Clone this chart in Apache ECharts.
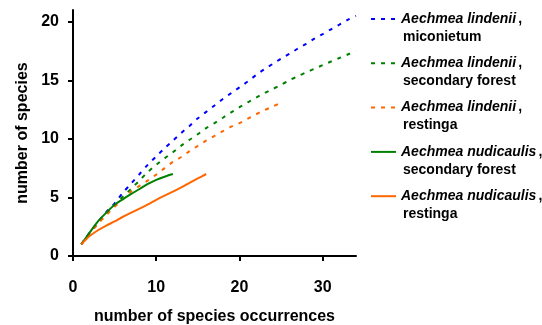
<!DOCTYPE html>
<html><head><meta charset="utf-8">
<script src="https://cdn.jsdelivr.net/npm/echarts@6/dist/echarts.min.js"></script>
<style>html,body{margin:0;padding:0;background:#fff}#c{width:542px;height:325px}</style>
</head><body><div id="c"></div>
<script>
// Chart data
const speciesNames = ['Aechmea lindenii', 'Aechmea lindenii', 'Aechmea lindenii', 'Aechmea nudicaulis', 'Aechmea nudicaulis'];
const habitats = ['miconietum', 'secondary forest', 'restinga', 'secondary forest', 'restinga'];

const occLindeniiMiconietum = [1,2,3,4,5,6,7,8,9,10,11,12,13,14,15,16,17,18,19,20,21,22,23,24,25,26,27,28,29,30,31,32,33,34];
const sppLindeniiMiconietum = [1,2.0,2.9,3.75,4.5,5.4,6.2,7.0,7.8,8.5,9.2,9.85,10.5,11.1,11.75,12.3,12.85,13.4,13.9,14.4,14.9,15.45,15.95,16.4,16.85,17.25,17.7,18.1,18.55,18.95,19.35,19.75,20.15,20.5];

const occLindeniiSecondary = [1,2,3,4,5,6,7,8,9,10,11,12,13,14,15,16,17,18,19,20,21,22,23,24,25,26,27,28,29,30,31,32,33,34];
const sppLindeniiSecondary = [1,1.95,2.8,3.6,4.35,5.08,5.75,6.45,7.18,7.78,8.33,8.85,9.42,9.92,10.4,10.92,11.35,11.8,12.26,12.7,13.12,13.52,13.9,14.25,14.62,15.0,15.34,15.67,15.98,16.3,16.6,16.9,17.2,17.5];

const occLindeniiRestinga = [1,2,3,4,5,6,7,8,9,10,11,12,13,14,15,16,17,18,19,20,21,22,23,24,25];
const sppLindeniiRestinga = [1,1.9,2.75,3.5,4.2,4.85,5.5,6.0,6.45,6.95,7.5,8.03,8.45,8.95,9.4,9.85,10.25,10.65,11.05,11.35,11.72,12.1,12.45,12.76,13.1];

const occNudicaulisSecondary = [1,2,3,4,5,6,7,8,9,10,11,12];
const sppNudicaulisSecondary = [1,2.0,2.95,3.7,4.37,4.85,5.3,5.72,6.15,6.5,6.77,7.0];

const occNudicaulisRestinga = [1,2,3,4,5,6,7,8,9,10,11,12,13,14,15,16];
const sppNudicaulisRestinga = [1,1.7,2.2,2.6,2.95,3.35,3.7,4.05,4.4,4.8,5.15,5.5,5.85,6.24,6.62,7.0];

const xTicks = [0, 10, 20, 30];
const yTicks = [0, 5, 10, 15, 20];

const occurrences = [occLindeniiMiconietum, occLindeniiSecondary, occLindeniiRestinga, occNudicaulisSecondary, occNudicaulisRestinga];
const speciesCounts = [sppLindeniiMiconietum, sppLindeniiSecondary, sppLindeniiRestinga, sppNudicaulisSecondary, sppNudicaulisRestinga];

// Styles
const colors = ['#0000ff', '#008000', '#ff6600', '#008000', '#ff6600'];
const dashed = [true, true, true, false, false];
const FONT = '"Liberation Sans", Arial, Helvetica, sans-serif';

const chart = echarts.init(document.getElementById('c'), null, {renderer: 'canvas'});

const series = occurrences.map((xs, i) => ({
  name: speciesNames[i] + ', ' + habitats[i],
  type: 'line',
  data: xs.map((x, j) => [x, speciesCounts[i][j]]),
  symbol: 'none',
  showSymbol: false,
  smooth: 0.3,
  color: colors[i],
  lineStyle: { color: colors[i], width: 2, type: dashed[i] ? [4, 6] : 'solid', cap: 'butt' },
  itemStyle: { color: colors[i] },
  z: dashed[i] ? 2 : 3
}));

const option = {
  animation: false,
  backgroundColor: '#ffffff',
  grid: { left: 73, right: 186, top: 10, bottom: 69, containLabel: false, outerBoundsMode: 'none' },
  legend: {
    orient: 'vertical',
    left: 370,
    top: 12,
    padding: 0,
    itemWidth: 25,
    itemHeight: 10,
    itemGap: 12.3,
    selectedMode: false,
    itemStyle: { opacity: 0, color: 'rgba(0,0,0,0)', borderWidth: 0 },
    data: series.map(s => s.name),
    formatter: function (name) {
      const parts = name.split(', ');
      return '{i|' + parts[0] + '}{b|,}\n{b|' + parts[1] + '}';
    },
    textStyle: {
      padding: [18, 0, 0, 0],
      color: '#000',
      fontFamily: FONT,
      rich: {
        i: { fontStyle: 'italic', fontWeight: 'bold', fontSize: 14, lineHeight: 18, color: '#000', fontFamily: FONT },
        b: { fontWeight: 'bold', fontSize: 14, lineHeight: 18, color: '#000', fontFamily: FONT, padding: [0, 0, 0, 2] }
      }
    }
  },
  xAxis: {
    type: 'value',
    min: 0,
    max: 34,
    interval: 10,
    name: 'number of species occurrences',
    nameLocation: 'middle',
    nameGap: 53,
    nameTextStyle: { fontFamily: FONT, fontSize: 16, fontWeight: 'bold', color: '#000' },
    axisLine: { show: true, onZero: false, lineStyle: { color: '#000', width: 2 } },
    axisTick: { show: true, length: 5, customValues: xTicks, lineStyle: { color: '#000', width: 2 } },
    axisLabel: { customValues: xTicks, fontFamily: FONT, fontSize: 16, fontWeight: 'bold', color: '#000', margin: 24 },
    splitLine: { show: false }
  },
  yAxis: {
    type: 'value',
    min: 0,
    max: 21,
    interval: 5,
    name: 'number of species',
    nameLocation: 'middle',
    nameGap: 41,
    nameTextStyle: { fontFamily: FONT, fontSize: 16, fontWeight: 'bold', color: '#000' },
    axisLine: { show: true, onZero: false, lineStyle: { color: '#000', width: 2 } },
    axisTick: { show: true, length: 5, customValues: yTicks, lineStyle: { color: '#000', width: 2 } },
    axisLabel: { customValues: yTicks, fontFamily: FONT, fontSize: 16, fontWeight: 'bold', color: '#000', margin: 14 },
    splitLine: { show: false }
  },
  series: series
};

chart.setOption(option);
</script>
</body></html>
